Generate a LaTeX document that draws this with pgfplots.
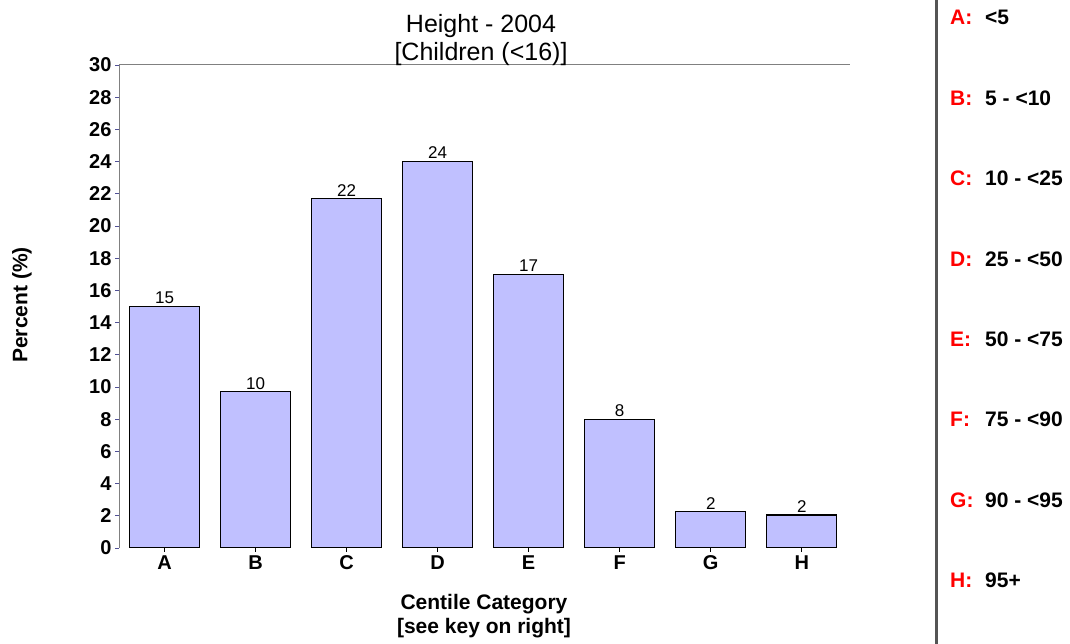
\documentclass[border=0pt]{standalone}
\usepackage{pgfplots}
\pgfplotsset{compat=1.18}
\usepackage{pgfplotstable}
\usepackage{fontspec}
\setmainfont{Liberation Sans}

\definecolor{barfill}{RGB}{192,192,255}
\definecolor{axisgray}{RGB}{128,128,128}
\definecolor{tickblue}{RGB}{80,80,150}
\definecolor{keyred}{RGB}{255,0,0}
\definecolor{sepgray}{RGB}{85,85,85}

% centile category, percent, printed label
\pgfplotstableread{
x  y     lab
0  15.0  15
1  9.7   10
2  21.7  22
3  24.0  24
4  17.0  17
5  8.0   8
6  2.25  2
7  2.05  2
}\heightdata

\begin{document}
\begin{tikzpicture}
\path[use as bounding box] (0,0) rectangle (1070pt,644pt);

\begin{axis}[
    at={(119pt,96pt)}, anchor=south west,
    scale only axis, width=731pt, height=483pt,
    xmin=-0.5, xmax=7.53, ymin=0, ymax=30,
    axis line style={draw=none},
    xtick=data, xticklabels={A,B,C,D,E,F,G,H},
    ytick={0,2,...,30},
    tick align=outside, major tick length=4pt,
    x tick style={black, line width=0.8pt},
    y tick style={tickblue, line width=0.8pt},
    xtick pos=bottom, ytick pos=left,
    ticklabel style={font=\fontsize{20}{22}\selectfont\bfseries},
    /pgf/number format/assume math mode=true,
    ybar, bar width=70pt,
    nodes near coords, point meta=explicit symbolic,
    nodes near coords style={font=\fontsize{17}{19}\selectfont, black, inner sep=2pt},
]
\addplot[draw=black, line width=1.2pt, fill=barfill] table[x=x, y=y, meta=lab] {\heightdata};
\draw[axisgray, line width=1pt] (rel axis cs:0,0) -- (rel axis cs:0,1) -- (rel axis cs:1,1);
\end{axis}

% titles
\node[anchor=base, font=\fontsize{25}{28}\selectfont] at (481pt,611pt) {Height - 2004};
\node[anchor=base, font=\fontsize{25}{28}\selectfont] at (481pt,583pt) {[Children (<16)]};

% axis labels
\node[anchor=base, font=\fontsize{21}{24}\selectfont\bfseries] at (484pt,34pt) {Centile Category};
\node[anchor=base, font=\fontsize{21}{24}\selectfont\bfseries] at (484pt,10pt) {[see key on right]};
\node[rotate=90, font=\fontsize{21}{24}\selectfont\bfseries] at (22pt,339pt) {Percent (\%)};

% separator and key
\draw[sepgray, line width=3pt] (936pt,0pt) -- (936pt,644pt);
\foreach \k/\t [count=\i from 0] in {A/{<5}, B/{5 - <10}, C/{10 - <25}, D/{25 - <50},
                                     E/{50 - <75}, F/{75 - <90}, G/{90 - <95}, H/{95+}} {
  \pgfmathsetmacro{\yy}{619-80.4*\i}
  \node[anchor=base west, inner sep=0pt, text=keyred, font=\fontsize{21}{24}\selectfont\bfseries]
    at (950pt,\yy pt) {\k:};
  \node[anchor=base west, inner sep=0pt, font=\fontsize{21}{24}\selectfont\bfseries]
    at (985pt,\yy pt) {\t};
}
\end{tikzpicture}
\end{document}
